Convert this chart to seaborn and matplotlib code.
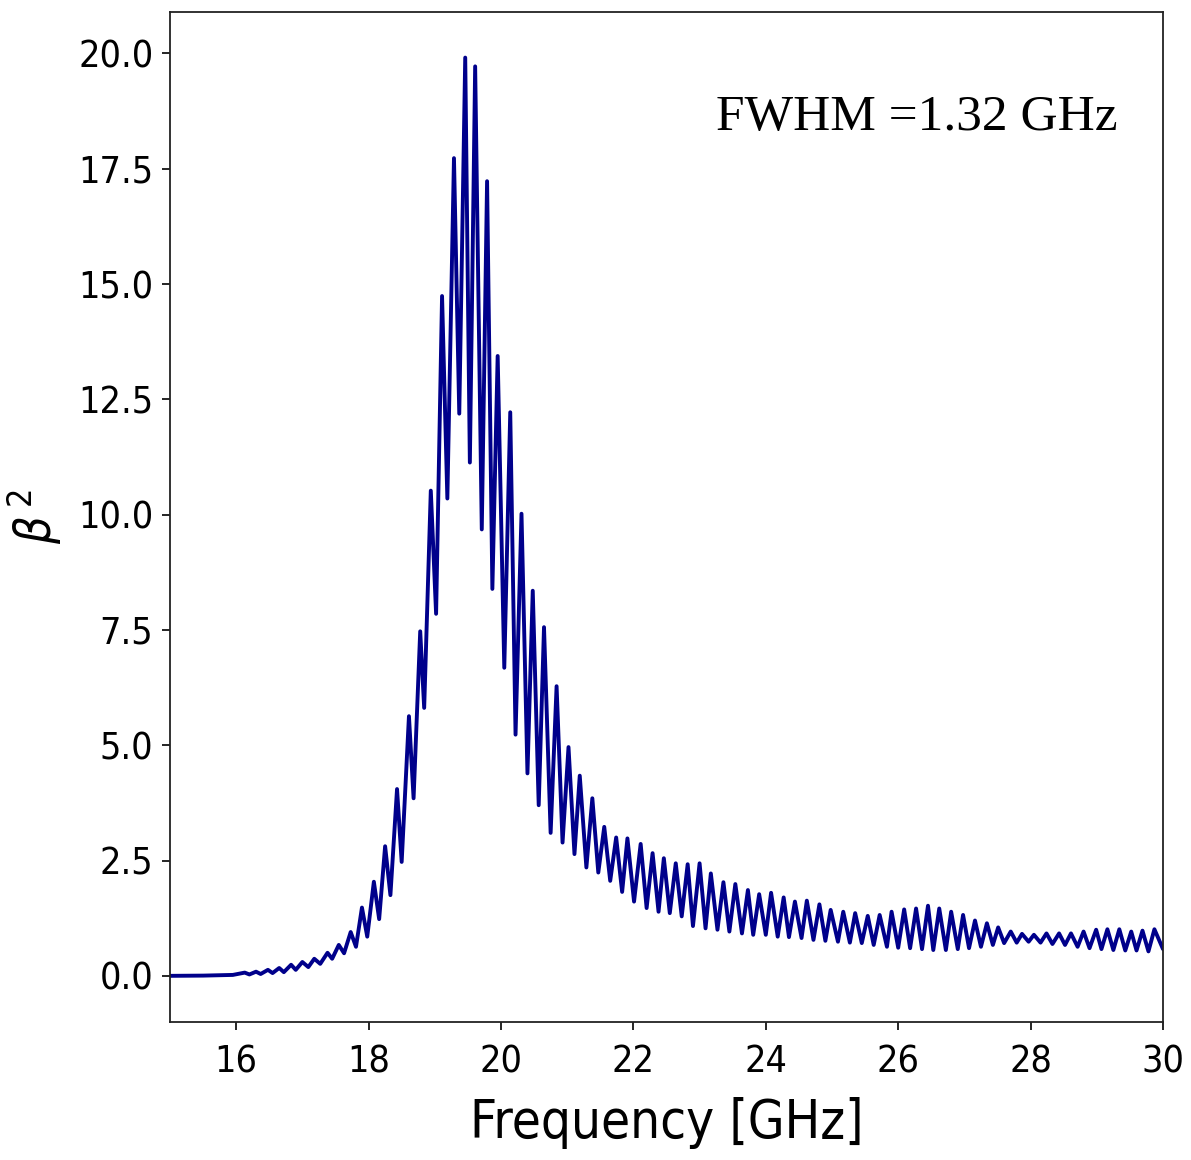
import matplotlib
matplotlib.use("Agg")
import matplotlib.pyplot as plt
import pandas as pd
import seaborn as sns

# ---- data (local maxima and minima of beta^2) ----
peak_freq = [16.13, 16.30, 16.48, 16.65, 16.83, 17.00, 17.18, 17.38, 17.55, 17.73,
             17.90, 18.08, 18.25, 18.43, 18.61, 18.78, 18.94, 19.11,
             19.29, 19.46, 19.61, 19.79, 19.95, 20.14, 20.31, 20.48, 20.65, 20.84,
             21.02, 21.19, 21.38, 21.56, 21.74, 21.91, 22.11, 22.29, 22.46, 22.64,
             22.82, 23.00, 23.17, 23.36, 23.54, 23.73, 23.90, 24.08, 24.27, 24.44,
             24.62, 24.81, 24.98, 25.17, 25.35, 25.54, 25.72, 25.90, 26.09, 26.27,
             26.45, 26.62, 26.80, 26.98, 27.16, 27.34, 27.51, 27.70, 27.87, 28.05,
             28.24, 28.43, 28.61, 28.80, 28.99, 29.16, 29.34, 29.52, 29.69, 29.87]
peak_val = [0.07, 0.09, 0.13, 0.17, 0.24, 0.30, 0.37, 0.50, 0.67, 0.95,
            1.48, 2.04, 2.81, 4.05, 5.63, 7.47, 10.52, 14.74,
            17.73, 19.91, 19.72, 17.23, 13.44, 12.22, 10.02, 8.35, 7.56, 6.28,
            4.96, 4.34, 3.85, 3.23, 3.00, 2.98, 2.86, 2.66, 2.55, 2.44,
            2.42, 2.44, 2.22, 2.03, 1.99, 1.86, 1.77, 1.80, 1.70, 1.61,
            1.63, 1.55, 1.43, 1.39, 1.36, 1.30, 1.32, 1.39, 1.44, 1.46,
            1.52, 1.46, 1.39, 1.32, 1.20, 1.14, 1.05, 0.96, 0.91, 0.89,
            0.92, 0.92, 0.92, 0.96, 1.00, 1.01, 1.01, 0.96, 0.98, 1.01]

trough_freq = [15.00, 15.50, 15.95,
               16.20, 16.37, 16.55, 16.72, 16.90, 17.09, 17.27, 17.45, 17.63, 17.81,
               17.98, 18.16, 18.33, 18.50, 18.68, 18.84, 19.02, 19.19, 19.37, 19.53,
               19.71, 19.87, 20.05, 20.22, 20.40, 20.57, 20.75, 20.93, 21.11, 21.29,
               21.47, 21.65, 21.83, 22.01, 22.20, 22.38, 22.55, 22.73, 22.90, 23.09,
               23.27, 23.45, 23.64, 23.81, 24.00, 24.18, 24.35, 24.54, 24.72, 24.90,
               25.09, 25.27, 25.45, 25.63, 25.83, 26.00, 26.18, 26.36, 26.53, 26.72,
               26.90, 27.07, 27.25, 27.43, 27.60, 27.79, 27.97, 28.15, 28.33, 28.52,
               28.71, 28.89, 29.07, 29.25, 29.43, 29.60, 29.78, 30.00]
trough_val = [0.00, 0.005, 0.02,
              0.03, 0.04, 0.06, 0.08, 0.13, 0.19, 0.26, 0.37, 0.49, 0.63,
              0.85, 1.23, 1.75, 2.47, 3.85, 5.81, 7.85, 10.35, 12.19, 11.13,
              9.68, 8.39, 6.68, 5.23, 4.39, 3.70, 3.10, 2.89, 2.64, 2.35,
              2.24, 2.06, 1.82, 1.61, 1.47, 1.39, 1.36, 1.29, 1.08, 1.03,
              1.00, 0.96, 0.92, 0.89, 0.89, 0.85, 0.84, 0.82, 0.78, 0.76,
              0.74, 0.72, 0.71, 0.67, 0.63, 0.61, 0.60, 0.58, 0.56, 0.56,
              0.58, 0.60, 0.63, 0.67, 0.71, 0.72, 0.74, 0.72, 0.69, 0.67,
              0.63, 0.60, 0.58, 0.56, 0.55, 0.55, 0.53, 0.58]

x_ticks = [16, 18, 20, 22, 24, 26, 28, 30]
y_ticks = [0.0, 2.5, 5.0, 7.5, 10.0, 12.5, 15.0, 17.5, 20.0]
annotation = "FWHM =1.32 GHz"

# ---- build the table ----
df = pd.concat([
    pd.DataFrame({"freq": peak_freq, "beta2": peak_val}),
    pd.DataFrame({"freq": trough_freq, "beta2": trough_val}),
]).sort_values("freq").reset_index(drop=True)

sns.set_style("ticks")
plt.rcParams["font.family"] = ["DejaVu Sans"]
plt.rcParams["font.stretch"] = "condensed"
plt.rcParams["mathtext.fontset"] = "dejavusans"
for key in ["text.color", "axes.labelcolor", "xtick.color", "ytick.color"]:
    plt.rcParams[key] = "black"

fig = plt.figure(figsize=(11.91, 11.60), dpi=100)
ax = fig.add_axes([0.1427, 0.119, 0.9765 - 0.1427, 0.9897 - 0.119])

sns.lineplot(data=df, x="freq", y="beta2", ax=ax, color="#00008B",
             linewidth=2.8, sort=True, estimator=None)
for ln in ax.get_lines():
    ln.set_solid_joinstyle("round")

ax.set_xlim(15, 30)
ax.set_ylim(-1.0, 20.9)
ax.set_xticks(x_ticks)
ax.set_yticks(y_ticks)
ax.set_yticklabels([f"{v:.1f}" for v in y_ticks])
ax.tick_params(axis="both", labelsize=27, length=6, width=1.2, color="black")
ax.tick_params(axis="y", pad=6)
ax.tick_params(axis="x", pad=10)

ax.set_xlabel("Frequency [GHz]", fontsize=38, labelpad=12)
ax.set_ylabel(r"$\beta^{\,2}$", fontsize=35, labelpad=10)

for s in ax.spines.values():
    s.set_visible(True)
    s.set_color("#222222")
    s.set_linewidth(1.3)

ax.text(0.954, 0.883, annotation, transform=ax.transAxes, ha="right",
        va="baseline", fontsize=37, family="Liberation Serif", color="black")

fig.savefig("out.png", dpi=100, facecolor="white")
